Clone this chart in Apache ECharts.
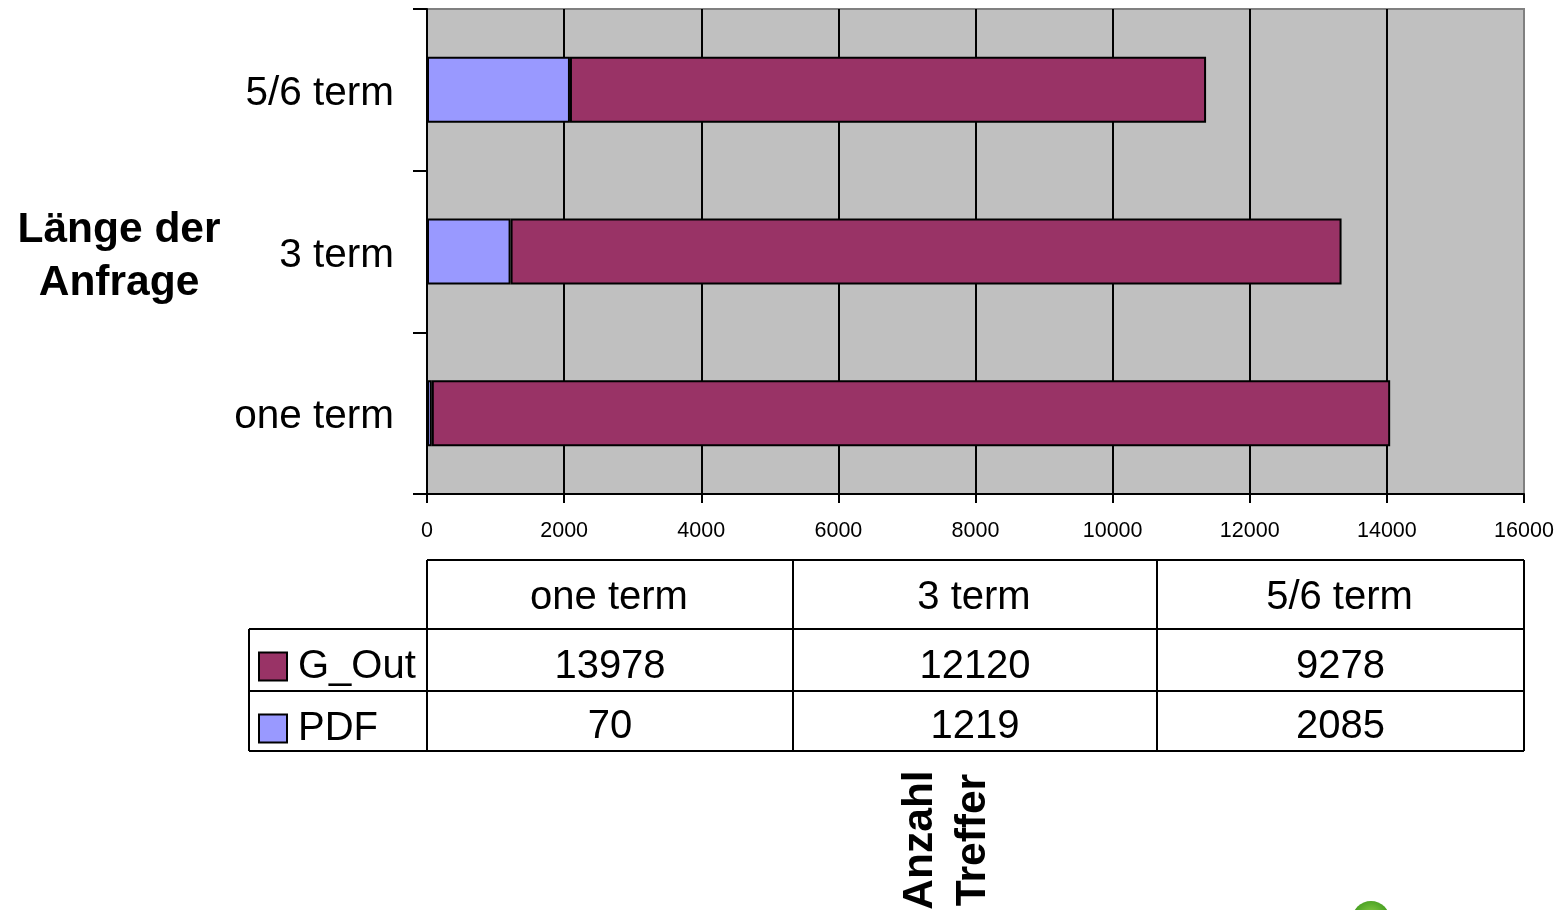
<!DOCTYPE html>
<html>
<head>
<meta charset="utf-8">
<style>
  html, body { margin: 0; padding: 0; background: #fff; }
  #chart { width: 1558px; height: 910px; }
</style>
<script src="https://cdn.jsdelivr.net/npm/echarts@6/dist/echarts.min.js"></script>
</head>
<body>
<div id="chart"></div>
<script>
const categories = ['one term', '3 term', '5/6 term']
const gOut = [13978, 12120, 9278]
const pdf = [70, 1219, 2085]
const seriesNames = ['G_Out', 'PDF']
const yTitle = 'Länge der\nAnfrage'
const xTitle = 'Anzahl\nTreffer'

const FONT = '"Liberation Sans", Arial, sans-serif'
const colLines = [427, 793, 1157, 1524]
const rowLines = [560, 629, 691, 751]
const tableLeft = 249

function line(x1, y1, x2, y2) {
  return {
    type: 'line',
    shape: { x1, y1, x2, y2 },
    style: { stroke: '#000', lineWidth: 2 }
  }
}

function cell(text, x, y) {
  return {
    type: 'text',
    x, y,
    style: { text: String(text), font: '40px ' + FONT, fill: '#000', align: 'center', verticalAlign: 'middle' }
  }
}

// data table under the chart
const tableParts = []
rowLines.forEach((y, i) => {
  tableParts.push(line(i === 0 ? colLines[0] : tableLeft, y, colLines[3], y))
})
colLines.forEach(x => tableParts.push(line(x, rowLines[0], x, rowLines[3])))
tableParts.push(line(tableLeft, rowLines[1], tableLeft, rowLines[3]))
categories.forEach((c, i) => {
  const cx = (colLines[i] + colLines[i + 1]) / 2
  tableParts.push(cell(c, cx - 1, 598))
  tableParts.push(cell(gOut[i], cx, 667))
  tableParts.push(cell(pdf[i], cx, 727))
})

const myChart = echarts.init(document.getElementById('chart'))
myChart.setOption({
  animation: false,
  backgroundColor: '#fff',
  textStyle: { fontFamily: FONT },
  grid: {
    left: 427, top: 9, width: 1097, height: 485,
    show: true,
    backgroundColor: '#c0c0c0',
    borderColor: '#808080',
    borderWidth: 2
  },
  legend: {
    data: seriesNames,
    orient: 'vertical',
    left: 253,
    top: 634,
    itemWidth: 28,
    itemHeight: 28,
    itemGap: 7,
    icon: 'rect',
    selectedMode: false,
    textStyle: { fontSize: 40, color: '#000', fontFamily: FONT, lineHeight: 50, padding: [5, 0, 0, 6] }
  },
  xAxis: {
    type: 'value',
    min: 0,
    max: 16000,
    interval: 2000,
    axisLine: { show: true, lineStyle: { color: '#000', width: 2 } },
    axisTick: { show: true, length: 9, lineStyle: { color: '#000', width: 2 } },
    axisLabel: {
      fontSize: 21.5, color: '#000', margin: 26, fontFamily: FONT,
      formatter: v => String(v)
    },
    splitLine: { show: true, showMaxLine: false, lineStyle: { color: '#000', width: 2 } }
  },
  yAxis: {
    type: 'category',
    data: categories,
    axisLine: { show: true, onZero: false, lineStyle: { color: '#000', width: 2 } },
    axisTick: { show: true, length: 14, alignWithLabel: false, lineStyle: { color: '#000', width: 2 } },
    axisLabel: {
      fontSize: 40.5, color: '#000', margin: 33, fontFamily: FONT,
      verticalAlign: 'top', lineHeight: 8
    },
    splitLine: { show: false }
  },
  series: [
    {
      name: seriesNames[1],
      type: 'bar',
      stack: 'total',
      data: pdf,
      barWidth: 66,
      itemStyle: { color: '#9999ff', borderColor: '#000', borderWidth: 2 }
    },
    {
      name: seriesNames[0],
      type: 'bar',
      stack: 'total',
      data: gOut,
      barWidth: 66,
      itemStyle: { color: '#993366', borderColor: '#000', borderWidth: 2 }
    }
  ],
  graphic: [
    ...tableParts,
    {
      type: 'text',
      x: 119,
      y: 257,
      style: { text: yTitle, font: 'bold 42.5px ' + FONT, fill: '#000', align: 'center', verticalAlign: 'middle', lineHeight: 53 }
    },
    {
      type: 'text',
      x: 947,
      y: 840,
      rotation: Math.PI / 2,
      style: { text: xTitle, font: 'bold 42.5px ' + FONT, fill: '#000', align: 'center', verticalAlign: 'middle', lineHeight: 53 }
    },
    {
      type: 'circle',
      shape: { cx: 1371, cy: 920, r: 19 },
      style: {
        fill: new echarts.graphic.RadialGradient(0.5, 0.4, 0.6, [
          { offset: 0, color: '#8fd14a' },
          { offset: 1, color: '#2f8f14' }
        ])
      }
    }
  ]
})
</script>
</body>
</html>
